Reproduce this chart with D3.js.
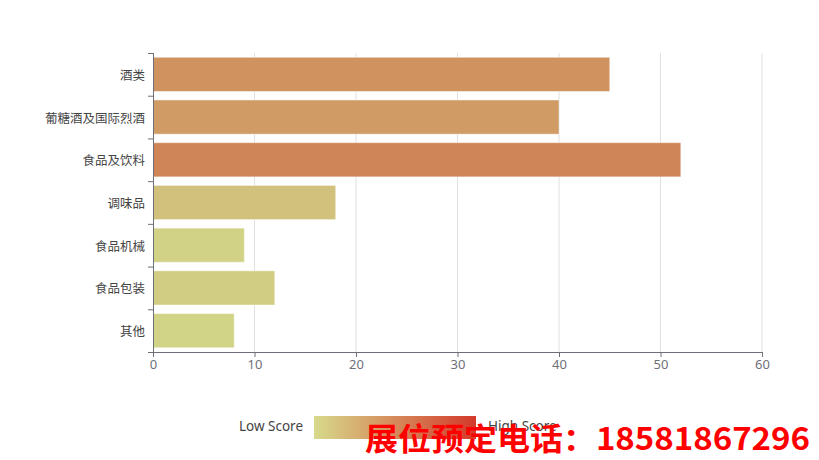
<!DOCTYPE html>
<html><head><meta charset="utf-8">
<script src="https://cdn.jsdelivr.net/npm/d3@7"></script>
<style>
html,body{margin:0;padding:0;background:#fff;}
svg{display:block;font-family:"Noto Sans CJK SC","Noto Sans",sans-serif;}
</style></head>
<body>
<svg id="chart" width="819" height="460"></svg>
<script>
const categories = ["酒类","葡糖酒及国际烈酒","食品及饮料","调味品","食品机械","食品包装","其他"];
const values = [45, 40, 52, 18, 9, 12, 8];
const xTicks = [0, 10, 20, 30, 40, 50, 60];
const legendText = ["Low Score", "High Score"];
const colorStops = ["#D7DA8B", "#D4392A"];
const colorRange = [8, 95];
const watermark = "展位预定电话：18581867296";

const svg = d3.select("#chart");
const L = 153, R = 762, T = 53, B = 352;

const x = d3.scaleLinear().domain([0, 60]).range([L, R]);
const y = d3.scaleBand().domain(categories).range([T, B]).paddingInner(0.2).paddingOuter(0.1);
const color = d3.scaleLinear().domain(colorRange).range(colorStops).clamp(true);

// gridlines
svg.append("g").selectAll("line").data(xTicks.filter(d => d > 0)).join("line")
  .attr("x1", d => x(d)).attr("x2", d => x(d)).attr("y1", T).attr("y2", B)
  .attr("stroke", "#e0e0e0").attr("stroke-width", 1);

// bars
svg.append("g").selectAll("rect").data(categories).join("rect")
  .attr("x", x(0) + 0.5)
  .attr("y", d => y(d))
  .attr("width", (d, i) => x(values[i]) - x(0) - 0.5)
  .attr("height", y.bandwidth())
  .attr("fill", (d, i) => d3.color(color(values[i])).darker(0.08))
  .attr("stroke", "rgba(255,255,255,0.45)").attr("stroke-width", 1);

// x axis
const xAxis = d3.axisBottom(x).tickValues(xTicks).tickSize(5).tickPadding(3);
const gx = svg.append("g").attr("transform", `translate(0,${B})`).call(xAxis);
gx.select(".domain").attr("stroke", "#6e7079");
gx.selectAll(".tick line").attr("stroke", "#6e7079");
gx.selectAll(".tick text").attr("fill", "#6e7079").style("font-size", "13px")
  .style("font-family", "'Noto Sans','DejaVu Sans',sans-serif");

// y axis
const gy = svg.append("g");
gy.append("line").attr("x1", L + 0.5).attr("x2", L + 0.5).attr("y1", T).attr("y2", B).attr("stroke", "#6e7079");
gy.selectAll("line.t").data(d3.range(categories.length + 1)).join("line").attr("class", "t")
  .attr("x1", L - 5).attr("x2", L).attr("y1", i => T + i * (B - T) / categories.length + 0.5)
  .attr("y2", i => T + i * (B - T) / categories.length + 0.5).attr("stroke", "#6e7079");
gy.selectAll("text").data(categories).join("text")
  .attr("x", L - 8).attr("y", d => y(d) + y.bandwidth() / 2)
  .attr("text-anchor", "end").attr("dominant-baseline", "central")
  .attr("fill", "#444").style("font-size", "12.5px").text(d => d);

// legend
const defs = svg.append("defs");
const grad = defs.append("linearGradient").attr("id", "lg").attr("x1", "0%").attr("x2", "100%");
grad.selectAll("stop").data(colorStops).join("stop")
  .attr("offset", (d, i) => i * 100 + "%").attr("stop-color", d => d);
svg.append("rect").attr("x", 314).attr("y", 416).attr("width", 162).attr("height", 23).attr("fill", "url(#lg)");
svg.append("text").attr("x", 303).attr("y", 426).attr("text-anchor", "end").attr("dominant-baseline", "central")
  .attr("fill", "#444").style("font-size", "13.5px").style("font-family", "'Noto Sans',sans-serif").text(legendText[0]);
svg.append("text").attr("x", 488).attr("y", 426).attr("text-anchor", "start").attr("dominant-baseline", "central")
  .attr("fill", "#444").style("font-size", "13.5px").style("font-family", "'Noto Sans',sans-serif").text(legendText[1]);

// watermark
svg.append("text").attr("x", 365).attr("y", 450).attr("fill", "#ff0000")
  .attr("textLength", 445).attr("lengthAdjust", "spacingAndGlyphs")
  .style("font-size", "31px").style("font-weight", "bold").text(watermark);
</script>
</body></html>
